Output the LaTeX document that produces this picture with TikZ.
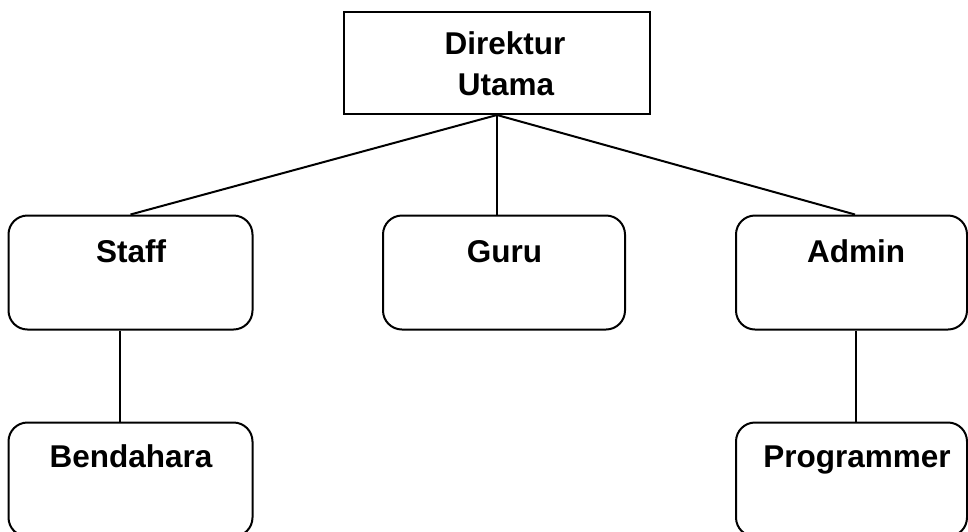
\documentclass[tikz,border=0pt]{standalone}
\usepackage{fontspec}
\setmainfont{Liberation Sans}
\begin{document}
\begin{tikzpicture}[x=1pt,y=-1pt,
  unit/.style={draw=black, line width=2pt, rounded corners=19pt, inner sep=0pt,
    minimum width=244pt, minimum height=114pt},
  headbox/.style={draw=black, line width=2pt, inner sep=0pt,
    minimum width=306pt, minimum height=102pt},
  title/.style={anchor=base, inner sep=0pt, font=\fontsize{31.5}{38}\selectfont\bfseries},
  conn/.style={draw=black, line width=2pt}]
  \useasboundingbox (0,0) rectangle (968,531);
  \clip (0,0) rectangle (968,531);

  % boxes
  \node[headbox] (dir) at (497,63) {};
  \node[unit] (staff) at (130.5,272.5) {};
  \node[unit, minimum width=242pt] (guru) at (504,272.5) {};
  \node[unit, minimum width=231pt] (admin) at (851.5,272.5) {};
  \node[unit] (bend) at (130.5,479.5) {};
  \node[unit, minimum width=231pt] (prog) at (851.5,479.5) {};

  % titles
  \node[title] (dirA) at (505,54) {Direktur};
  \node[title] (dirB) at (506,95) {Utama};
  \node[title] (staffT) at (131,262) {Staff};
  \node[title] (guruT) at (504.5,262) {Guru};
  \node[title] (adminT) at (856,262) {Admin};
  \node[title] (bendT) at (131,467) {Bendahara};
  \node[title] (progT) at (857,467) {Programmer};

  % connectors
  \draw[conn] (dir.south) -- (staff.north);
  \draw[conn] (dir.south) -- (dir.south |- guru.north);
  \draw[conn] (dir.south) -- ([xshift=3.5pt]admin.north);
  \draw[conn] ([xshift=-10.5pt]staff.south) -- ([xshift=-10.5pt]bend.north);
  \draw[conn] ([xshift=4.5pt]admin.south) -- ([xshift=4.5pt]prog.north);
\end{tikzpicture}
\end{document}
